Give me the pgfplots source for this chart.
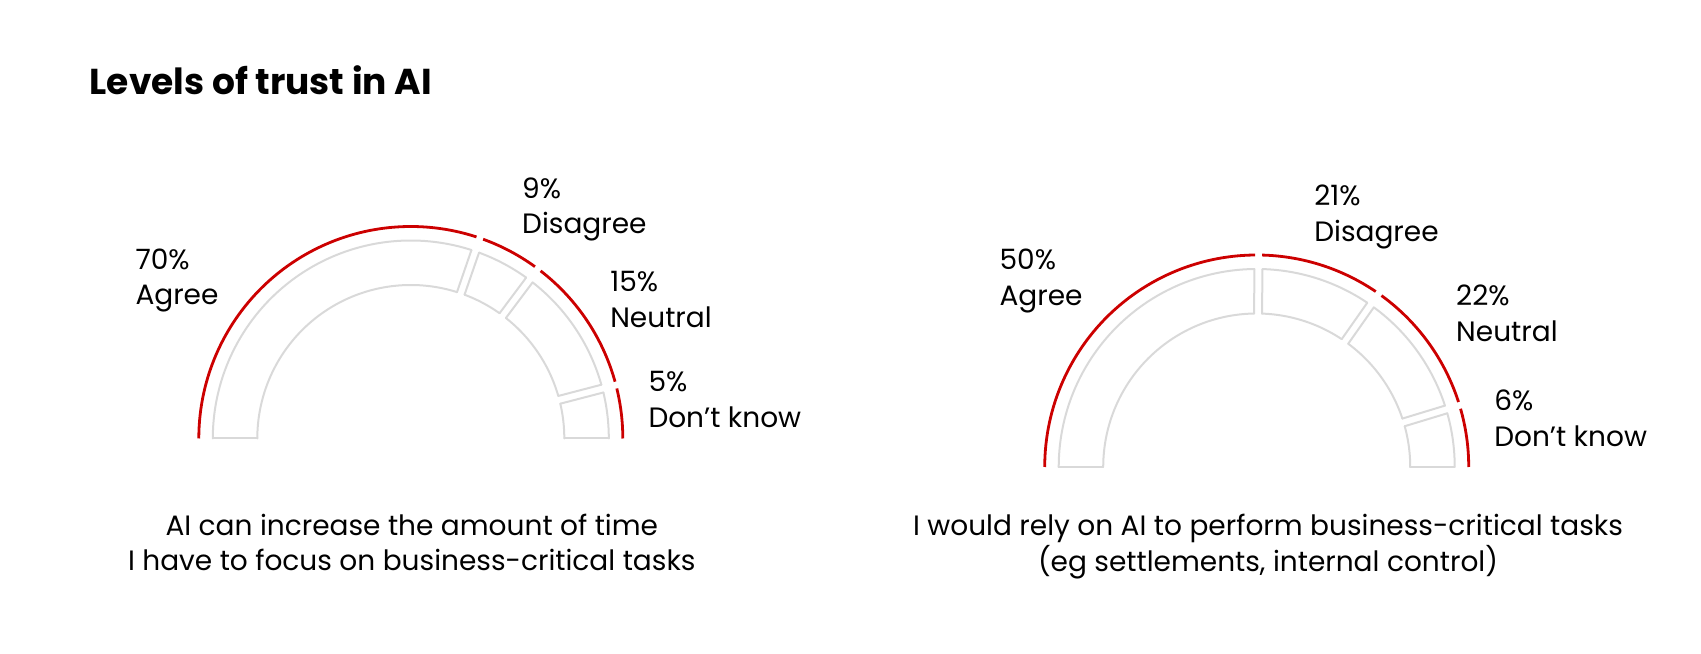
\documentclass[border=0pt]{standalone}
\usepackage{fontspec}
\setmainfont{Poppins}
\usepackage{pgfplots}
\pgfplotsset{compat=1.18}
\definecolor{segrey}{HTML}{D9D9D9}
\definecolor{arcred}{HTML}{CC0000}
\pgfplotsset{
  gauge/.style={x=0.5pt,y=0.5pt,hide axis,clip=false,anchor=south west,at={(0,0)},samples=150},
  segline/.style={draw=segrey,line width=1pt,data cs=polar,line cap=round},
  redline/.style={draw=arcred,line width=1.4pt,data cs=polar},
}
\tikzset{lab/.style={anchor=base west,inner sep=0pt,font=\fontsize{14}{16}\selectfont},
  sub/.style={anchor=base,inner sep=0pt,font=\fontsize{14}{16}\selectfont}}
% one ring segment: outer start, outer end, inner start, inner end (angles in degrees)
\newcommand{\seg}[4]{%
  \addplot[segline,domain=#2:#1] {198};
  \addplot[segline,domain=#4:#3] {153.5};
  \addplot[segline] coordinates {(#1,198) (#3,153.5)};
  \addplot[segline] coordinates {(#2,198) (#4,153.5)};
}
\begin{document}
\begin{tikzpicture}
\useasboundingbox (0,0) rectangle (850.5pt,326.5pt);
% ---------- Gauge 1: 70 / 9 / 15 / 5 ----------
\begin{axis}[gauge,xmin=-410.8,xmax=1290.2,ymin=-214.5,ymax=438.5]
  \seg{180}{72.16}{180}{72.49}
  \seg{69.84}{54.36}{69.51}{54.69}
  \seg{52.04}{15.76}{51.71}{16.09}
  \seg{13.44}{0}{13.11}{0}
  \addplot[redline,domain=71.95:180] {212};
  \addplot[redline,domain=54.15:70.05] {212};
  \addplot[redline,domain=15.55:52.25] {212};
  \addplot[redline,domain=0:13.65] {212};
  \node[lab] at (axis cs:-275.7,169.2) {70\%};
  \node[lab] at (axis cs:-275.7,133.5) {Agree};
  \node[lab] at (axis cs:111,240.2) {9\%};
  \node[lab] at (axis cs:111,204.5) {Disagree};
  \node[lab] at (axis cs:199.1,146.8) {15\%};
  \node[lab] at (axis cs:199.1,111.2) {Neutral};
  \node[lab] at (axis cs:237.3,46.8) {5\%};
  \node[lab] at (axis cs:237.3,11.2) {Don’t know};
  \node[sub] at (axis cs:1,-97.2) {AI can increase the amount of time};
  \node[sub] at (axis cs:1,-132) {I have to focus on business-critical tasks};
  \node[anchor=base west,inner sep=0pt,font=\bfseries\fontsize{18}{21}\selectfont] at (axis cs:-321.5,343.5) {Levels of trust in AI};
\end{axis}
% ---------- Gauge 2: 50 / 21 / 22 / 6 ----------
\begin{axis}[gauge,xmin=-1256.7,xmax=444.3,ymin=-186,ymax=467]
  \seg{180}{90.66}{180}{90.99}
  \seg{88.34}{56.06}{88.01}{56.39}
  \seg{53.74}{18.06}{53.41}{18.39}
  \seg{15.74}{0}{15.41}{0}
  \addplot[redline,domain=90.45:180] {212};
  \addplot[redline,domain=55.85:88.55] {212};
  \addplot[redline,domain=17.85:53.95] {212};
  \addplot[redline,domain=0:15.95] {212};
  \node[lab] at (axis cs:-257.5,197.7) {50\%};
  \node[lab] at (axis cs:-257.5,161.3) {Agree};
  \node[lab] at (axis cs:57.2,261) {21\%};
  \node[lab] at (axis cs:57.2,225.3) {Disagree};
  \node[lab] at (axis cs:199.1,161) {22\%};
  \node[lab] at (axis cs:199.1,125.3) {Neutral};
  \node[lab] at (axis cs:237.2,56.3) {6\%};
  \node[lab] at (axis cs:237.2,20.3) {Don’t know};
  \node[sub] at (axis cs:11.3,-68.5) {I would rely on AI to perform business-critical tasks};
  \node[sub] at (axis cs:11.3,-104) {(eg settlements, internal control)};
\end{axis}
\end{tikzpicture}
\end{document}
